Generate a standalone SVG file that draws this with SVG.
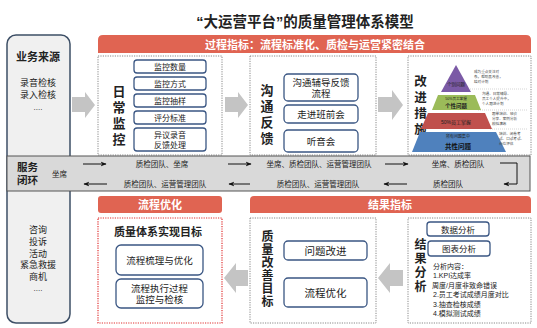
<svg xmlns="http://www.w3.org/2000/svg" width="537" height="328" viewBox="0 0 537 328">
<style>
text{font-family:"Liberation Sans","Noto Sans CJK SC",sans-serif;fill:#222}
.b{font-weight:bold}
.v{writing-mode:vertical-rl;text-anchor:middle;font-weight:bold}
.hdr{fill:#e06452}
.ht{fill:#fff;font-weight:bold;font-size:11px;text-anchor:middle}
.dot{fill:#fff;stroke:#888;stroke-width:1;stroke-dasharray:1.2 1.2}
.rdot{fill:#fff;stroke:#e03030;stroke-width:1.2;stroke-dasharray:1.2 1.2}
.sb{fill:#fff;stroke:#3a5683;stroke-width:1.3}
.big{fill:#c4c4c4}
.c{text-anchor:middle}
.ln{stroke:#111;stroke-width:1;fill:none}
.note{font-size:3.6px;fill:#444}
.sep{stroke:#bbb;stroke-width:0.6;stroke-dasharray:1 1}
</style>
<defs>
<marker id="ah" viewBox="0 0 10 10" refX="9" refY="5" markerWidth="6" markerHeight="6" orient="auto-start-reverse" markerUnits="userSpaceOnUse">
<path d="M0,1 L10,5 L0,9 L3,5 Z" fill="#111"/>
</marker>
</defs>
<rect width="537" height="328" fill="#fff"/>
<text class="b c" x="305" y="27" font-size="14.5">“大运营平台”的质量管理体系模型</text>

<g id="source">
<rect x="7" y="35" width="63" height="288" rx="9" fill="#f0f0f0" stroke="#3d4f66" stroke-width="1.5"/>
<text class="b c" x="38" y="61" font-size="11">业务来源</text>
<text class="c" font-size="9" fill="#444"><tspan x="38" y="86">录音检核</tspan><tspan x="38" y="98">录入检核</tspan><tspan x="38" y="110" font-size="8">....</tspan></text>
<text class="c" font-size="9" fill="#444"><tspan x="38" y="233">咨询</tspan><tspan x="38" y="245">投诉</tspan><tspan x="38" y="257">活动</tspan><tspan x="38" y="268">紧急救援</tspan><tspan x="38" y="280">商机</tspan><tspan x="38" y="291" font-size="8">....</tspan></text>
</g>

<g id="process-header">
<path class="hdr" d="M98,53 V40 Q98,35 103,35 H526 Q531,35 531,40 V53 Z"/>
<text class="ht" x="315" y="49">过程指标：流程标准化、质检与运营紧密结合</text>
</g>

<g id="daily-monitor">
<rect class="dot" x="98" y="56" width="124" height="99"/>
<text class="v" x="118" y="117" font-size="13" letter-spacing="3">日常监控</text>
<rect class="sb" x="134" y="60" width="72" height="13" rx="3"/>
<text class="c" x="170" y="69.5" font-size="8" fill="#444">监控数量</text>
<rect class="sb" x="134" y="77" width="72" height="13" rx="3"/>
<text class="c" x="170" y="86.5" font-size="8" fill="#444">监控方式</text>
<rect class="sb" x="134" y="94" width="72" height="13" rx="3"/>
<text class="c" x="170" y="103.5" font-size="8" fill="#444">监控抽样</text>
<rect class="sb" x="134" y="111" width="72" height="13" rx="3"/>
<text class="c" x="170" y="120.5" font-size="8" fill="#444">评分标准</text>
<rect class="sb" x="134" y="128" width="72" height="23" rx="3"/>
<text class="c" font-size="8" fill="#444"><tspan x="170" y="137.5">异议录音</tspan><tspan x="170" y="147.5">反馈处理</tspan></text>
</g>

<g id="feedback">
<rect class="dot" x="250" y="56" width="126" height="99"/>
<text class="v" x="266" y="116" font-size="13" letter-spacing="3">沟通反馈</text>
<rect class="sb" x="284" y="74" width="74" height="27" rx="4"/>
<text class="c" font-size="9.5" fill="#333"><tspan x="321" y="86">沟通辅导反馈</tspan><tspan x="321" y="97">流程</tspan></text>
<rect class="sb" x="284" y="105" width="74" height="18" rx="4"/>
<text class="c" x="321" y="117.5" font-size="9.5" fill="#333">走进班前会</text>
<rect class="sb" x="284" y="130" width="74" height="22" rx="4"/>
<text class="c" x="321" y="144.5" font-size="9.5" fill="#333">听音会</text>
</g>

<g id="improve">
<rect class="dot" x="408" y="56" width="123" height="99"/>
<text class="v" x="419" y="107" font-size="12.5" letter-spacing="3.5">改进措施</text>
<line class="sep" x1="470" y1="89" x2="528" y2="89"/>
<line class="sep" x1="478" y1="110" x2="528" y2="110"/>
<line class="sep" x1="490" y1="129" x2="528" y2="129"/>
<path d="M456,65 L471,92 L441,92 Z" fill="#7b5aa6"/>
<text class="c" x="456" y="86" font-size="4.5" fill="#222">个别问题</text>
<path d="M438,95 L475,95 L481,110 L432,110 Z" fill="#9bbb59"/>
<text class="c" font-size="3.6" fill="#333"><tspan x="456" y="100">50%员工掌握</tspan><tspan x="456" y="108" font-size="5.5" font-weight="bold" fill="#222">个性问题</tspan></text>
<path d="M428,113 L485,113 L492,129 L421,129 Z" fill="#c0504d"/>
<text class="c" x="456" y="123.5" font-size="5" fill="#fff">50%员工掌握</text>
<path d="M420,132 L496,132 L506,152 L412,152 Z" fill="#4f81bd"/>
<text class="c" font-size="4" fill="#fff"><tspan x="458" y="138">所有问题集中</tspan><tspan x="458" y="148.5" font-size="6.5" font-weight="bold" fill="#111">共性问题</tspan></text>
<text class="note"><tspan x="474" y="73">成为重点关注对</tspan><tspan x="474" y="78">象，帮助其改善，</tspan><tspan x="474" y="83">结对计划</tspan></text>
<text class="note"><tspan x="482" y="95">沟通、日常辅导、</tspan><tspan x="482" y="100">员工个人提升中，</tspan><tspan x="482" y="105">个人跟进计划</tspan></text>
<text class="note"><tspan x="492" y="115">跟单培训、班会</tspan><tspan x="492" y="120">分享、案例分析</tspan><tspan x="492" y="125">模拟演练</tspan></text>
<text class="note"><tspan x="499" y="135">培训、闭卷考</tspan><tspan x="499" y="140">试、口试考试、</tspan><tspan x="499" y="145">岗位评估</tspan></text>
</g>

<g id="service-loop">
<rect x="7" y="156" width="523" height="35" fill="#d9d9d9" stroke="#555" stroke-width="1"/>
<text class="b" font-size="10.5"><tspan x="17" y="171">服务</tspan><tspan x="17" y="184">闭环</tspan></text>
<text x="52" y="177" font-size="7.5">坐席</text>
<text class="c" x="162" y="167" font-size="7.5" fill="#333">质检团队、坐席</text>
<text class="c" x="319" y="167" font-size="7.5" fill="#333">坐席、质检团队、运营管理团队</text>
<text class="c" x="458" y="167" font-size="7.5" fill="#333">坐席、质检团队</text>
<text class="c" x="165" y="187" font-size="7.5" fill="#333">质检团队、运营管理团队</text>
<text class="c" x="318" y="187" font-size="7.5" fill="#333">质检团队、运营管理团队</text>
<text class="c" x="448" y="187" font-size="7.5" fill="#333">质检团队</text>
</g>

<g id="result-header">
<path class="hdr" d="M250,213 V200 Q250,196 254,196 H527 Q531,196 531,200 V213 Z"/>
<text class="ht" x="390" y="209">结果指标</text>
</g>

<g id="flow-opt">
<rect class="hdr" x="98" y="196" width="124" height="17" rx="3"/>
<text class="ht" x="160" y="209">流程优化</text>
<rect class="rdot" x="98" y="218" width="124" height="105"/>
<text class="b c" x="158" y="236" font-size="11">质量体系实现目标</text>
<rect class="sb" x="116" y="245" width="87" height="30" rx="5"/>
<text class="c" x="159.5" y="263.5" font-size="9.5" fill="#444">流程梳理与优化</text>
<rect class="sb" x="116" y="279" width="87" height="29" rx="5"/>
<text class="c" font-size="9.5" fill="#444"><tspan x="159.5" y="291.5">流程执行过程</tspan><tspan x="159.5" y="303">监控与检核</tspan></text>
</g>

<g id="quality-goal">
<rect class="dot" x="250" y="218" width="126" height="105"/>
<text class="v" x="266" y="269" font-size="12" letter-spacing="1">质量改善目标</text>
<rect class="sb" x="284" y="241" width="83" height="19" rx="4"/>
<text class="c" x="325.5" y="254.5" font-size="10.5" fill="#333">问题改进</text>
<rect class="sb" x="284" y="278" width="83" height="29" rx="4"/>
<text class="c" x="325.5" y="296.5" font-size="10.5" fill="#333">流程优化</text>
</g>

<g id="result-analysis">
<rect class="dot" x="408" y="218" width="123" height="105"/>
<text class="v" x="419" y="266.5" font-size="12" letter-spacing="2">结果分析</text>
<rect class="sb" x="427" y="222" width="62" height="14" rx="3"/>
<text class="c" x="458" y="232.5" font-size="8.5" fill="#333">数据分析</text>
<rect class="sb" x="428" y="241" width="62" height="15" rx="3"/>
<text class="c" x="459" y="252" font-size="8.5" fill="#333">图表分析</text>
<text font-size="7" fill="#333"><tspan x="433" y="269">分析内容：</tspan><tspan x="433" y="278">1.KPI达成率</tspan><tspan x="432" y="287.5">周度/月度非致命错误</tspan><tspan x="433" y="297">2.员工考试成绩月度对比</tspan><tspan x="433" y="306.5">3.抽查检核成绩</tspan><tspan x="433" y="316">4.模拟测试成绩</tspan></text>
</g>

<g id="connectors">
<path class="big" d="M72,97 H85 V92 L95,105 L85,118 V112 H72 Z"/>
<path class="big" d="M225,97 H238 V92 L248,105 L238,118 V112 H225 Z"/>
<path class="big" d="M378,97 H392 V90 L403,105 L392,120 V112 H378 Z"/>
<path class="big" d="M248,270 H236 V263 L224,278 L236,293 V286 H248 Z"/>
<path class="big" d="M403,270 H390 V263 L378,278 L390,293 V286 H403 Z"/>
<line class="ln" x1="83" y1="164" x2="106" y2="164" marker-end="url(#ah)"/>
<line class="ln" x1="228" y1="164" x2="251" y2="164" marker-end="url(#ah)"/>
<line class="ln" x1="385" y1="164" x2="408" y2="164" marker-end="url(#ah)"/>
<path class="ln" d="M500,163 H517 V184 H504" marker-end="url(#ah)"/>
<line class="ln" x1="407" y1="184" x2="384" y2="184" marker-end="url(#ah)"/>
<line class="ln" x1="250" y1="184" x2="229" y2="184" marker-end="url(#ah)"/>
<line class="ln" x1="107" y1="184" x2="84" y2="184" marker-end="url(#ah)"/>
</g>
</svg>
